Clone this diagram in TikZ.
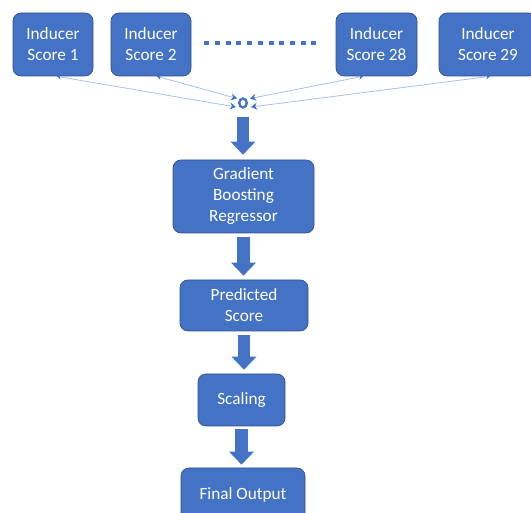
\documentclass[tikz,border=0pt]{standalone}
\usepackage{fontspec}
\setmainfont{Carlito}
\usetikzlibrary{arrows.meta,calc,shapes.geometric}
\definecolor{boxblue}{HTML}{4472C4}
\definecolor{edgeblue}{HTML}{2F528F}
\definecolor{feedblue}{HTML}{A9C0E8}
\tikzset{
  box/.style={rectangle, rounded corners=8pt, fill=boxblue, draw=edgeblue, line width=0.7pt,
    text=white, align=center, inner sep=0pt, font=\fontsize{17.2}{21}\selectfont},
  feed/.style={draw=feedblue, line width=0.8pt,
    {Stealth[length=4pt,width=5pt,color=boxblue]}-{Stealth[length=6pt,width=7pt,color=boxblue]}},
  bigarrow/.style={draw=boxblue, line width=12.5pt,
    -{Triangle[width=25pt,length=13pt,line width=0pt]}},
  dotrow/.style={draw=boxblue, line width=4pt, dash pattern=on 5pt off 5.7pt},
  hubring/.style={ellipse, draw=boxblue, line width=2.4pt, minimum width=7.5pt, minimum height=9pt, inner sep=0pt}
}
\begin{document}
\begin{tikzpicture}[x=1pt,y=-1pt]
\useasboundingbox (0,0) rectangle (531,513);
\clip (0,0) rectangle (531,513);

\node[box, minimum width=80pt, minimum height=63pt] (b1) at (53,44.5) {Inducer\\Score 1};
\node[box, minimum width=80pt, minimum height=63pt] (b2) at (151,44.5) {Inducer\\Score 2};
\node[box, minimum width=81pt, minimum height=63pt] (b28) at (376.5,44.5) {Inducer\\Score 28};
\node[box, minimum width=98pt, minimum height=63pt] (b29) at (488,44.5) {Inducer\\Score 29};

\draw[dotrow, shorten <=13pt, shorten >=15pt] ([yshift=1.5pt]b2.east) -- ([yshift=1.5pt]b28.west);

\node[hubring] (hub) at (243,103) {};
\coordinate (c1) at (236,107);
\coordinate (c2) at (237,98.5);
\coordinate (c28) at (250,98.5);
\coordinate (c29) at (251,107);
\draw[feed] ([xshift=4pt]b1.south) -- (c1);
\draw[feed] ([xshift=6pt]b2.south) -- (c2);
\draw[feed] ([xshift=-13.5pt]b28.south) -- (c28);
\draw[feed] ([xshift=2pt]b29.south) -- (c29);

\node[box, minimum width=141pt, minimum height=73pt] (gbr) at (243.5,196.5) {Gradient\\Boosting\\Regressor};
\node[box, minimum width=128pt, minimum height=51pt] (pred) at (244,305.5) {Predicted\\Score};
\node[box, minimum width=87pt, minimum height=52pt] (scal) at (241.5,400) {Scaling};
\node[box, minimum width=124pt, minimum height=54pt] (final) at (243,495) {Final Output};

\coordinate (src) at (243,117);
\draw[bigarrow, shorten >=5pt] (src) -- (src |- gbr.north);
\draw[bigarrow, shorten <=4pt, shorten >=4pt] (gbr.south) -- (gbr.south |- pred.north);
\draw[bigarrow, shorten <=4pt, shorten >=4pt] (pred.south) -- (pred.south |- scal.north);
\draw[bigarrow, shorten <=3pt, shorten >=3pt] (scal.south) -- (scal.south |- final.north);
\end{tikzpicture}
\end{document}
